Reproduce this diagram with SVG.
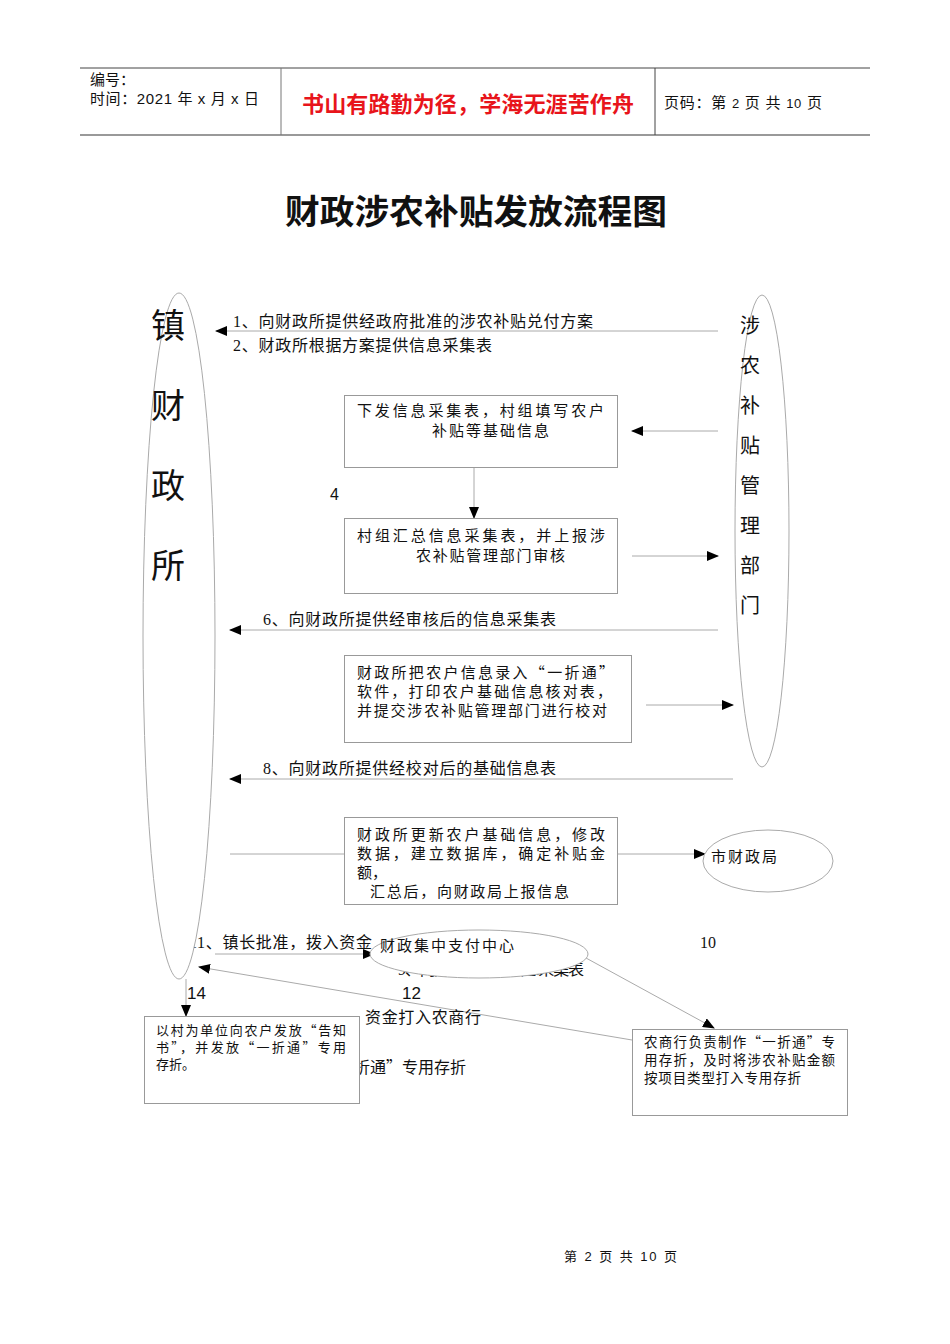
<svg xmlns="http://www.w3.org/2000/svg" width="950" height="1344" viewBox="0 0 950 1344">
<defs>
<style>
.s{font-family:"Liberation Serif","Noto Sans CJK SC",serif;fill:#111}
.h{font-family:"Liberation Sans","Noto Sans CJK SC",sans-serif;fill:#111}
.q{font-family:"Noto Sans CJK SC",sans-serif}
.ln{stroke:#aaa;stroke-width:1;fill:none}
.bx{stroke:#999;stroke-width:1;fill:#fff}
.el{stroke:#aaa;stroke-width:1;fill:#fff}
</style>
<marker id="ar" markerWidth="12" markerHeight="10" refX="11" refY="5" orient="auto" markerUnits="userSpaceOnUse">
<path d="M0,0 L12,5 L0,10 z" fill="#000"/>
</marker>
</defs>
<rect width="950" height="1344" fill="#fff"/>
<g id="header">
<line x1="80" y1="68" x2="870" y2="68" stroke="#444" stroke-width="1"/>
<line x1="80" y1="135" x2="870" y2="135" stroke="#777" stroke-width="1.5"/>
<line x1="281" y1="68" x2="281" y2="135" stroke="#777" stroke-width="1"/>
<line x1="655" y1="68" x2="655" y2="135" stroke="#444" stroke-width="1"/>
<text class="h" x="90" y="85" font-size="15">编号：</text>
<text class="h" x="90" y="104" font-size="15" textLength="169">时间：2021 年 x 月 x 日</text>
<text x="302" y="112" font-size="22" font-weight="bold" fill="#e8141b" font-family="Liberation Sans,'Noto Sans CJK SC',sans-serif" textLength="332">书山有路勤为径，学海无涯苦作舟</text>
<text class="h" x="664" y="108" font-size="15" textLength="158">页码：第 <tspan font-size="13">2</tspan> 页  共 <tspan font-size="13">10</tspan> 页</text>
</g>
<text class="h" x="476" y="224" font-size="34" font-weight="bold" text-anchor="middle" textLength="382" lengthAdjust="spacingAndGlyphs">财政涉农补贴发放流程图</text>

<!-- texts partly hidden behind nodes -->
<text class="s" x="189" y="948" font-size="16" textLength="183">11、镇长批准，拨入资金</text>
<text class="s" x="398" y="975" font-size="16" textLength="186">9、向财政所提供信息采集表</text>
<text class="s" x="466" y="1073" font-size="16" text-anchor="end">13、向农户发放<tspan class="q">“</tspan>一折通<tspan class="q">”</tspan>专用存折</text>

<g id="connectors">
<line class="ln" x1="718" y1="331" x2="216" y2="331" marker-end="url(#ar)"/>
<line class="ln" x1="718" y1="431" x2="632" y2="431" marker-end="url(#ar)"/>
<line class="ln" x1="474" y1="467" x2="474" y2="518" marker-end="url(#ar)"/>
<line class="ln" x1="632" y1="556" x2="718" y2="556" marker-end="url(#ar)"/>
<line class="ln" x1="718" y1="630" x2="230" y2="630" marker-end="url(#ar)"/>
<line class="ln" x1="646" y1="705" x2="733" y2="705" marker-end="url(#ar)"/>
<line class="ln" x1="733" y1="779" x2="230" y2="779" marker-end="url(#ar)"/>
<line class="ln" x1="230" y1="854" x2="344" y2="854"/>
<line class="ln" x1="617" y1="854" x2="705" y2="854" marker-end="url(#ar)"/>
<line class="ln" x1="215" y1="954" x2="374" y2="954" marker-end="url(#ar)"/>
<line class="ln" x1="586" y1="958" x2="714" y2="1028" marker-end="url(#ar)"/>
<line class="ln" x1="632" y1="1040" x2="199" y2="967" marker-end="url(#ar)"/>
<line class="ln" x1="186" y1="979" x2="186" y2="1016" marker-end="url(#ar)"/>
<text class="s" x="233" y="327" font-size="16" textLength="360">1、向财政所提供经政府批准的涉农补贴兑付方案</text>
<text class="s" x="233" y="351" font-size="16" textLength="259">2、财政所根据方案提供信息采集表</text>
<text class="h" x="330" y="500" font-size="16">4</text>
<text class="s" x="263" y="625" font-size="16" textLength="293">6、向财政所提供经审核后的信息采集表</text>
<text class="s" x="263" y="774" font-size="16" textLength="293">8、向财政所提供经校对后的基础信息表</text>
<text class="s" x="700" y="948" font-size="16">10</text>
<text class="h" x="402" y="999" font-size="17">12</text>
<text class="s" x="365" y="1023" font-size="16" textLength="116">资金打入农商行</text>
<text class="h" x="187" y="999" font-size="17">14</text>
</g>

<g id="zhen-caizhengsuo">
<ellipse class="el" cx="179" cy="636" rx="36" ry="343"/>
<text class="s" x="168" y="338" font-size="34" text-anchor="middle">镇</text>
<text class="s" x="168" y="418" font-size="34" text-anchor="middle">财</text>
<text class="s" x="168" y="498" font-size="34" text-anchor="middle">政</text>
<text class="s" x="168" y="578" font-size="34" text-anchor="middle">所</text>
</g>

<g id="guanli-bumen">
<ellipse class="el" cx="762" cy="531" rx="27" ry="236" style="fill:none"/>
<text class="s" x="750" y="333" font-size="20" text-anchor="middle">涉</text>
<text class="s" x="750" y="373" font-size="20" text-anchor="middle">农</text>
<text class="s" x="750" y="413" font-size="20" text-anchor="middle">补</text>
<text class="s" x="750" y="453" font-size="20" text-anchor="middle">贴</text>
<text class="s" x="750" y="493" font-size="20" text-anchor="middle">管</text>
<text class="s" x="750" y="533" font-size="20" text-anchor="middle">理</text>
<text class="s" x="750" y="573" font-size="20" text-anchor="middle">部</text>
<text class="s" x="750" y="613" font-size="20" text-anchor="middle">门</text>
</g>

<g id="box1">
<rect class="bx" x="344.5" y="395.5" width="273" height="72"/>
<text class="s" x="357" y="416" font-size="15" textLength="247">下发信息采集表，村组填写农户</text>
<text class="s" x="432" y="436" font-size="15" textLength="117">补贴等基础信息</text>
</g>

<g id="box2">
<rect class="bx" x="344.5" y="518.5" width="273" height="75"/>
<text class="s" x="357" y="541" font-size="15" textLength="248">村组汇总信息采集表，并上报涉</text>
<text class="s" x="416" y="561" font-size="15" textLength="149">农补贴管理部门审核</text>
</g>

<g id="box3">
<rect class="bx" x="344.5" y="655.5" width="287" height="87"/>
<text class="s" x="357" y="678" font-size="15" textLength="257">财政所把农户信息录入<tspan class="q">“</tspan>一折通<tspan class="q">”</tspan></text>
<text class="s" x="357" y="697" font-size="15" textLength="255">软件，打印农户基础信息核对表，</text>
<text class="s" x="357" y="716" font-size="15" textLength="250">并提交涉农补贴管理部门进行校对</text>
</g>

<g id="box4">
<rect class="bx" x="344.5" y="817.5" width="273" height="87"/>
<text class="s" x="357" y="840" font-size="15" textLength="248">财政所更新农户基础信息，修改</text>
<text class="s" x="357" y="859" font-size="15" textLength="248">数据，建立数据库，确定补贴金</text>
<text class="s" x="357" y="878" font-size="15">额，</text>
<text class="s" x="370" y="897" font-size="15" textLength="199">汇总后，向财政局上报信息</text>
</g>

<g id="shi-caizhengju">
<ellipse class="el" cx="768" cy="861" rx="65" ry="31"/>
<text class="s" x="711" y="862" font-size="15" textLength="66">市财政局</text>
</g>

<g id="zhifu-zhongxin">
<ellipse class="el" cx="479" cy="954" rx="109" ry="24"/>
<text class="s" x="380" y="951" font-size="15" textLength="134">财政集中支付中心</text>
</g>

<g id="nongshanghang">
<rect class="bx" x="632.5" y="1029.5" width="215" height="86"/>
<text class="s" x="644" y="1047" font-size="13.5" textLength="191">农商行负责制作<tspan class="q">“</tspan>一折通<tspan class="q">”</tspan>专</text>
<text class="s" x="644" y="1065" font-size="13.5" textLength="191">用存折，及时将涉农补贴金额</text>
<text class="s" x="644" y="1083" font-size="13.5" textLength="157">按项目类型打入专用存折</text>
</g>

<g id="nonghu">
<rect class="bx" x="144.5" y="1016.5" width="215" height="87"/>
<text class="s" x="156" y="1035" font-size="13" textLength="190">以村为单位向农户发放<tspan class="q">“</tspan>告知</text>
<text class="s" x="156" y="1052" font-size="13" textLength="190">书<tspan class="q">”</tspan>，并发放<tspan class="q">“</tspan>一折通<tspan class="q">”</tspan>专用</text>
<text class="s" x="156" y="1069" font-size="13">存折。</text>
</g>

<text class="h" x="564" y="1261" font-size="13" textLength="113">第 2 页 共 10 页</text>
</svg>
